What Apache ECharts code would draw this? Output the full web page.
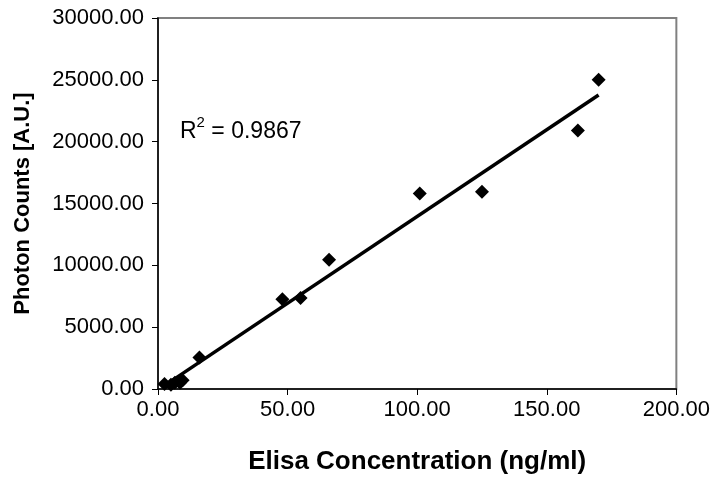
<!DOCTYPE html>
<html>
<head>
<meta charset="utf-8">
<script src="https://cdn.jsdelivr.net/npm/echarts@6/dist/echarts.min.js"></script>
<style>
  html, body { margin: 0; padding: 0; background: #fff; }
  #chart { width: 713px; height: 480px; }
</style>
</head>
<body>
<div id="chart"></div>
<script>
// Elisa concentration (ng/ml) vs. photon counts (A.U.)
var elisaConc = [2.5, 5, 6.5, 8.5, 9.5, 16, 48, 55, 66, 101, 125, 162, 170];
var photonCounts = [400, 350, 500, 500, 700, 2550, 7250, 7350, 10450, 15800, 15950, 20900, 25000];
var xTicks = [0, 50, 100, 150, 200];
var yTicks = [0, 5000, 10000, 15000, 20000, 25000, 30000];
var rSquaredText = '0.9867';

// least-squares fit across the measured range
function linearFit(xs, ys) {
  var n = xs.length, sx = 0, sy = 0, sxx = 0, sxy = 0;
  for (var i = 0; i < n; i++) {
    sx += xs[i]; sy += ys[i]; sxx += xs[i] * xs[i]; sxy += xs[i] * ys[i];
  }
  var slope = (n * sxy - sx * sy) / (n * sxx - sx * sx);
  var intercept = (sy - slope * sx) / n;
  return { slope: slope, intercept: intercept };
}
var fit = linearFit(elisaConc, photonCounts);
var xMin = Math.min.apply(null, elisaConc), xMax = Math.max.apply(null, elisaConc);
var trend = [[xMin, fit.intercept + fit.slope * xMin], [xMax, fit.intercept + fit.slope * xMax]];

var points = elisaConc.map(function (x, i) { return [x, photonCounts[i]]; });
var font = 'Liberation Sans, Arial, sans-serif';

var chart = echarts.init(document.getElementById('chart'), null, { renderer: 'canvas' });
chart.setOption({
  animation: false,
  backgroundColor: '#fff',
  grid: {
    left: 158, right: 36, top: 18, bottom: 90,
    show: true, borderColor: '#808080', borderWidth: 2, backgroundColor: 'transparent'
  },
  xAxis: {
    type: 'value', min: xTicks[0], max: xTicks[xTicks.length - 1], interval: 50,
    name: 'Elisa Concentration (ng/ml)', nameLocation: 'middle', nameGap: 60,
    nameTextStyle: { fontFamily: font, fontSize: 26, fontWeight: 'bold', color: '#000' },
    axisLine: { show: true, lineStyle: { color: '#000', width: 1.5 } },
    axisTick: { show: true, length: 6, lineStyle: { color: '#000', width: 1 } },
    axisLabel: { margin: 10, fontFamily: font, fontSize: 22, color: '#000',
      formatter: function (v) { return v.toFixed(2); } },
    splitLine: { show: false }
  },
  yAxis: {
    type: 'value', min: yTicks[0], max: yTicks[yTicks.length - 1], interval: 5000,
    name: 'Photon Counts [A.U.]', nameLocation: 'middle', nameGap: 124, nameRotate: 90,
    nameTextStyle: { fontFamily: font, fontSize: 22, fontWeight: 'bold', color: '#000' },
    axisLine: { show: true, lineStyle: { color: '#000', width: 1.5 } },
    axisTick: { show: true, length: 6, lineStyle: { color: '#000', width: 1 } },
    axisLabel: { margin: 14, fontFamily: font, fontSize: 22, color: '#000',
      formatter: function (v) { return v.toFixed(2); } },
    splitLine: { show: false }
  },
  series: [
    {
      type: 'line', data: trend, showSymbol: false, symbol: 'none',
      lineStyle: { color: '#000', width: 3.5 }, z: 2
    },
    {
      type: 'scatter', data: points, symbol: 'diamond', symbolSize: 14,
      itemStyle: { color: '#000', opacity: 1 }, z: 3
    }
  ],
  graphic: [
    {
      type: 'text', left: 180, top: 115, z: 10,
      style: {
        text: '{r|R}{s|2}{r| = ' + rSquaredText + '}',
        rich: {
          r: { fontFamily: font, fontSize: 23, fill: '#000', verticalAlign: 'bottom', lineHeight: 28 },
          s: { fontFamily: font, fontSize: 15, fill: '#000', verticalAlign: 'top', lineHeight: 28 }
        }
      }
    }
  ]
});
</script>
</body>
</html>
